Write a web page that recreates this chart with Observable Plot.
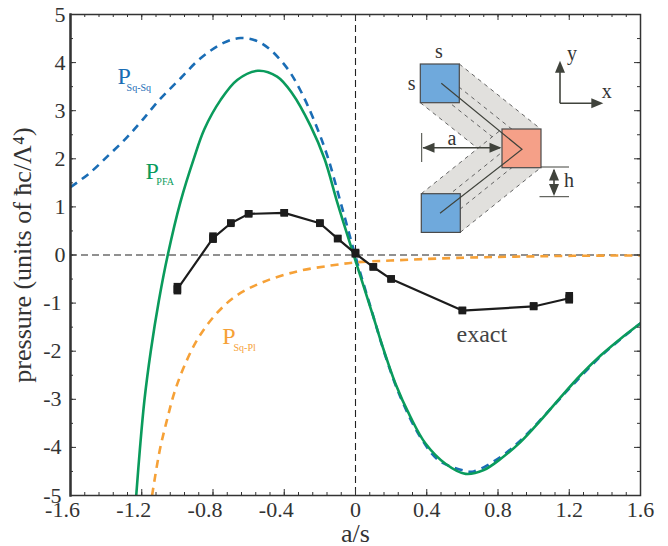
<!DOCTYPE html>
<html>
<head>
<meta charset="utf-8">
<script src="https://cdn.jsdelivr.net/npm/d3@7"></script>
<script src="https://cdn.jsdelivr.net/npm/@observablehq/plot@0.6"></script>
<style>
html,body{margin:0;padding:0;background:#fff}
svg{display:block}
</style>
</head>
<body>
<div id="chart"></div>
<script>
const xPFA = [-1.231,-1.211,-1.185,-1.149,-1.104,-1.054,-0.983,-0.908,-0.848,-0.758,-0.664,-0.549,-0.44,-0.355,-0.253,-0.174,-0.099,-0.006,0.099,0.159,0.225,0.309,0.393,0.505,0.618,0.72,0.814,0.926,1.039,1.151,1.263,1.376,1.488,1.6];
const yPFA = [-5,-4.06,-3.02,-1.99,-0.95,0,1.1,2.0,2.62,3.22,3.64,3.83,3.71,3.36,2.69,2.0,1.05,-0.05,-1.27,-1.98,-2.68,-3.37,-3.92,-4.34,-4.55,-4.47,-4.24,-3.89,-3.44,-2.96,-2.5,-2.09,-1.74,-1.42];
const xSqSq = [-1.6,-1.497,-1.387,-1.282,-1.198,-1.095,-0.983,-0.87,-0.741,-0.646,-0.561,-0.488,-0.383,-0.309,-0.235,-0.159,-0.084,0,0.094,0.168,0.253,0.365,0.468,0.618,0.664,0.814,0.936,1.095,1.217,1.393,1.6];
const ySqSq = [1.41,1.69,2.07,2.45,2.80,3.25,3.67,4.09,4.41,4.51,4.46,4.3,3.88,3.42,2.82,2.07,1.1,-0.03,-1.2,-2.1,-2.96,-3.79,-4.27,-4.49,-4.5,-4.2,-3.82,-3.2,-2.71,-2.05,-1.42];
const xSqPl = [-1.142,-1.099,-1.057,-1.016,-0.96,-0.885,-0.786,-0.674,-0.524,-0.327,-0.14,0.01,0.197,0.571,1.226,1.6];
const ySqPl = [-5,-4.06,-3.41,-2.85,-2.30,-1.74,-1.24,-0.86,-0.57,-0.34,-0.22,-0.15,-0.115,-0.06,-0.017,-0.01];
const xExact = [-1.0,-0.8,-0.7,-0.6,-0.4,-0.2,-0.1,0,0.1,0.2,0.6,1.0,1.2];
const yExact = [-0.71,0.35,0.66,0.855,0.875,0.66,0.34,0.03,-0.25,-0.5,-1.155,-1.07,-0.9];
const eExact = [0.12,0.11,0.07,0.07,0.07,0.07,0.07,0.09,0.07,0.07,0.07,0.08,0.12];

const xTicksNeg = [-1.6,-1.2,-0.8,-0.4];
const xTicksPos = [0,0.4,0.8,1.2,1.6];
const yTicksNeg = [-5,-4,-3,-2,-1];
const yTicksPos = [0,1,2,3,4,5];
const xMinor = d3.range(-20,21).map(i => i*0.08);
const yMinor = d3.range(-10,11).map(i => i*0.5);
const xMajor = xTicksNeg.concat(xTicksPos);
const yMajor = yTicksNeg.concat(yTicksPos);

const ink = "#333333", blue = "#1a6db5", green = "#0a9b5c", orange = "#f6a137";
const serif = "Liberation Serif";
const H = 481, W = 570;

// schematic inset, a drawing and not data: placed in the frame's pixel space
function inset() {
  const svg = d3.create("svg:g");
  const line = "#40433c";
  const band = (a,b,c,d) => {
    svg.append("polygon").attr("points",[a,b,c,d].map(p=>p.join(",")).join(" ")).attr("fill","#e1e0dd");
    [0,1/3,2/3,1].forEach(t=>{
      const m=(p,q)=>[p[0]+(q[0]-p[0])*t,p[1]+(q[1]-p[1])*t];
      const s=m(a,d), e=m(b,c);
      svg.append("line").attr("x1",s[0]).attr("y1",s[1]).attr("x2",e[0]).attr("y2",e[1])
        .attr("stroke","#555").attr("stroke-width",0.9).attr("stroke-dasharray","4,4");
    });
  };
  band([459.3,64],[540.7,129],[502,167.7],[420.3,102.7]);
  band([421.3,193.7],[502,129],[540.7,167.7],[460.3,232.3]);
  const sq=(x,y,f)=>svg.append("rect").attr("x",x).attr("y",y).attr("width",39).attr("height",38.7)
    .attr("fill",f).attr("stroke","#4a4a4a").attr("stroke-width",1.2);
  sq(420.3,64,"#6fa9dc"); sq(421.3,193.7,"#6fa9dc"); sq(502,129,"#f5a088");
  svg.append("polyline").attr("points","441.3,83.3 522,149.3 440,213.3").attr("fill","none").attr("stroke",line).attr("stroke-width",1.2);
  const seg=(x1,y1,x2,y2,w=1.4)=>svg.append("line").attr("x1",x1).attr("y1",y1).attr("x2",x2).attr("y2",y2).attr("stroke",line).attr("stroke-width",w);
  const head=(x,y,dx,dy)=>{
    const l=12,h=5;
    svg.append("polygon").attr("points",[[x,y],[x-dx*l-dy*h,y-dy*l-dx*h],[x-dx*l+dy*h,y-dy*l+dx*h]].map(p=>p.join(",")).join(" ")).attr("fill",line);
  };
  seg(421.7,133,421.7,162,1);
  seg(423,147.7,500,147.7,1.6); head(422.5,147.7,-1,0); head(501.5,147.7,1,0);
  seg(541,167,569,167,1); seg(539.5,196.7,569,196.7,1);
  seg(554,170,554,194,1.6); head(554,168.5,0,-1); head(554,196,0,1);
  seg(560,103.3,560,70,1.6); seg(560,103.3,595,103.3,1.6); head(560,60.7,0,-1); head(603.3,103.3,1,0);
  const t=(x,y,s)=>svg.append("text").attr("x",x).attr("y",y).attr("text-anchor","middle")
    .attr("font-family",serif).attr("font-size",20).attr("fill","#333").text(s);
  t(439,58.3,"s"); t(411.7,90,"s"); t(452,145,"a"); t(569,186.7,"h"); t(572,60,"y"); t(606.7,97.7,"x");
  return svg.node();
}

const label = (x,y,text,fill,fontSize) => Plot.text([text],{x:[x],y:[y],text:d=>d,fill,fontSize,fontFamily:serif,textAnchor:"start",lineAnchor:"bottom"});
const dashed = {strokeWidth:2.6,strokeDasharray:"8,6",strokeLinecap:"butt",curve:"catmull-rom",clip:true};

const plot = Plot.plot({
  width: 668, height: 546,
  marginLeft: 70, marginRight: 28, marginTop: 14, marginBottom: 51,
  style: {background:"#fff", fontFamily: serif},
  x: {domain:[-1.6,1.6]},
  y: {domain:[-5,5]},
  marks: [
    Plot.ruleY([0],{stroke:"#222",strokeWidth:1.1,strokeDasharray:"7,4"}),
    Plot.ruleX([0],{stroke:"#222",strokeWidth:1.1,strokeDasharray:"7,4"}),
    inset,
    Plot.line(xSqSq,{x:xSqSq,y:ySqSq,stroke:blue,...dashed}),
    Plot.line(xSqPl,{x:xSqPl,y:ySqPl,stroke:orange,...dashed}),
    Plot.line(xPFA,{x:xPFA,y:yPFA,stroke:green,strokeWidth:2.6,curve:"catmull-rom",clip:true}),
    Plot.line(xExact,{x:xExact,y:yExact,stroke:"#1c1c1c",strokeWidth:2.2}),
    Plot.ruleX(xExact,{x:xExact,y1:yExact.map((v,i)=>v-eExact[i]),y2:yExact.map((v,i)=>v+eExact[i]),stroke:"#1c1c1c",strokeWidth:7.6}),
    Plot.dot(xExact,{x:xExact,y:yExact,symbol:"square",r:4.3,fill:"#1c1c1c"}),
    Plot.tickX(xMinor,{x:d=>d,insetTop:H-3,stroke:ink,strokeWidth:1}),
    Plot.tickX(xMinor,{x:d=>d,insetBottom:H-3,stroke:ink,strokeWidth:1}),
    Plot.tickX(xMajor,{x:d=>d,insetTop:H-6,stroke:ink,strokeWidth:1}),
    Plot.tickX(xMajor,{x:d=>d,insetBottom:H-6,stroke:ink,strokeWidth:1}),
    Plot.tickY(yMinor,{y:d=>d,insetRight:W-3,stroke:ink,strokeWidth:1}),
    Plot.tickY(yMinor,{y:d=>d,insetLeft:W-3,stroke:ink,strokeWidth:1}),
    Plot.tickY(yMajor,{y:d=>d,insetRight:W-6,stroke:ink,strokeWidth:1}),
    Plot.tickY(yMajor,{y:d=>d,insetLeft:W-6,stroke:ink,strokeWidth:1}),
    Plot.frame({stroke:ink,strokeWidth:1.5}),
    Plot.frame({anchor:"left",stroke:ink,strokeWidth:2.4}),
    Plot.axisX(xTicksPos,{tickSize:0,tickPadding:6,fontSize:22,fill:ink,tickFormat:d=>String(d),label:null}),
    Plot.axisX(xTicksNeg,{tickSize:0,tickPadding:6,dx:-8,fontSize:22,fill:ink,tickFormat:d=>String(d),label:null}),
    Plot.axisY(yTicksPos,{tickSize:0,tickPadding:5,fontSize:22,fill:ink,tickFormat:d=>String(d),label:null}),
    Plot.axisY(yTicksNeg,{tickSize:0,tickPadding:5,dx:-4,fontSize:22,fill:ink,tickFormat:d=>String(d),label:null}),
    Plot.text(["pressure (units of ħc/Λ⁴)"],{frameAnchor:"left",textAnchor:"middle",dx:-48,rotate:-90,text:d=>d,fontSize:26,fill:ink,fontFamily:serif}),
    Plot.text(["a/s"],{frameAnchor:"bottom",dy:46,text:d=>d,fontSize:26,fill:ink,fontFamily:serif}),
    label(-1.336,3.565,"P",blue,24),
    label(-1.285,3.40,"Sq-Sq",blue,10),
    label(-1.179,1.57,"P",green,24),
    label(-1.118,1.45,"PFA",green,10),
    label(-0.748,-1.86,"P",orange,24),
    label(-0.685,-1.99,"Sq-Pl",orange,10),
    label(0.567,-1.80,"exact","#444",24)
  ]
});
document.getElementById("chart").appendChild(plot);
</script>
</body>
</html>
